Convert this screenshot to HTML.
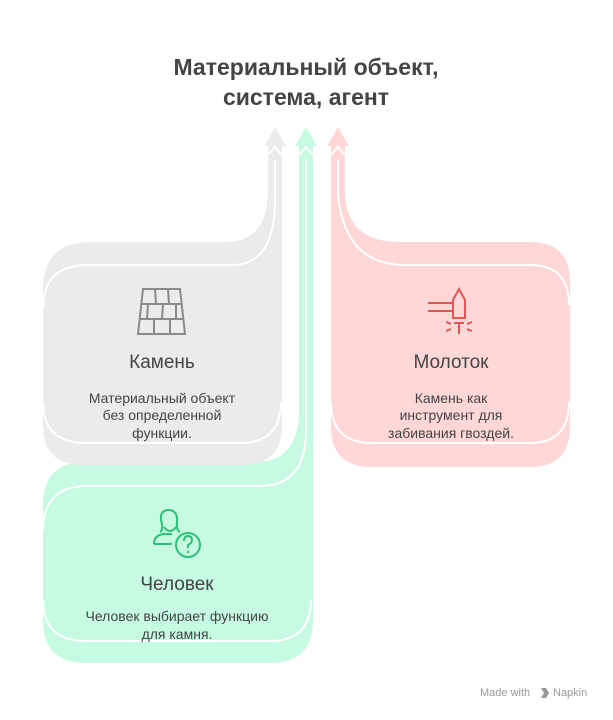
<!DOCTYPE html>
<html><head><meta charset="utf-8"><style>
html,body{margin:0;padding:0;background:#fff;}
svg{display:block;font-family:"Liberation Sans",sans-serif;}
</style></head><body>
<svg width="613" height="720" viewBox="0 0 613 720" xmlns="http://www.w3.org/2000/svg">
<text x="306" y="75" text-anchor="middle" font-size="23" font-weight="bold" fill="#444">Материальный объект,</text>
<text x="306" y="105" text-anchor="middle" font-size="23" font-weight="bold" fill="#444">система, агент</text>

<!-- green -->
<path d="M43,505 Q43,462 86,462 L255,462 Q299,462 299,410 L299,146 L295,146 L306,127 L317,146 L313,146 L313,620 Q313,663 270,663 L86,663 Q43,663 43,620 Z" fill="#c6fbe2"/>
<path d="M43,530 Q43,486 88,486 L260,486 Q306,486 306,430 L306,160" fill="none" stroke="#fff" stroke-width="2"/>
<path d="M43,600 Q43,641 86,641 L270,641 Q311,641 311,600" fill="none" stroke="#fff" stroke-width="2"/>
<path d="M299,155 L306,147 L313,155" fill="none" stroke="#fff" stroke-width="2"/>

<!-- gray -->
<path d="M43,290 Q43,242 91,242 L225,242 Q268,242 268,190 L268,146 L264,146 L275,127 L286,146 L282,146 L282,425 Q282,465 242,465 L83,465 Q43,465 43,425 Z" fill="#ebebeb"/>
<path d="M43,308 Q43,265 88,265 L232,265 Q275,265 275,200 L275,160" fill="none" stroke="#fff" stroke-width="2"/>
<path d="M43,402 Q43,443 86,443 L240,443 Q281,443 281,402" fill="none" stroke="#fff" stroke-width="2"/>
<path d="M268,155 L275,147 L282,155" fill="none" stroke="#fff" stroke-width="2"/>

<!-- red -->
<path d="M331,146 L327,146 L338,127 L349,146 L345,146 L345,190 Q345,242 400,242 L530,242 Q570,242 570,282 L570,427 Q570,467 530,467 L372,467 Q331,467 331,427 Z" fill="#ffd7d7"/>
<path d="M338,160 L338,195 Q345,265 405,265 L530,265 Q569,265 569,305" fill="none" stroke="#fff" stroke-width="2"/>
<path d="M331,402 Q331,443 372,443 L530,443 Q569,443 569,402" fill="none" stroke="#fff" stroke-width="2"/>
<path d="M331,155 L338,147 L345,155" fill="none" stroke="#fff" stroke-width="2"/>

<!-- brick icon -->
<g fill="none" stroke="#8a8a8a" stroke-width="2">
<path d="M143,289 L180,289 L185,334 L138,334 Z"/>
<path d="M141,304 L182,304 M140,319 L183,319"/>
<path d="M155,289 L156,304 M168,289 L169,304 M148,304 L147,319 M163,304 L162,319 M176,304 L176,319 M154,319 L154,334 M170,319 L170,334"/>
</g>

<!-- hammer icon -->
<g fill="none" stroke="#e05555" stroke-width="2">
<path d="M453,318 L453,300 L459,289 L465,300 L465,318 Z"/>
<path d="M428,303 L453,303 M428,311 L453,311"/>
<path d="M459,323 L459,334 M454,323 L464,323 M446,322 L451,324 M472,322 L467,324 M446,331 L451,329 M472,331 L467,329"/>
</g>

<!-- person icon -->
<g fill="none" stroke="#2fbf78" stroke-width="2">
<path d="M162,524 Q158,511 168,510 Q178,510 177,522 Q176,530 180,532 M162,524 Q163,530 160,532 M164,527 Q170,535 176,527"/>
<path d="M154,544 Q154,535 164,534 L172,534"/>
<path d="M154,544 L172,544"/>
<circle cx="188" cy="545" r="12"/>
<path d="M184,541 Q184,536 188,536 Q192,536 192,540 Q192,543 188,545 L188,548"/>
</g>
<circle cx="188" cy="552" r="1.2" fill="#2fbf78"/>

<g fill="#444" text-anchor="middle">
<text x="162" y="368" font-size="19">Камень</text>
<text x="162" y="403" font-size="14">Материальный объект</text>
<text x="162" y="420" font-size="14">без определенной</text>
<text x="162" y="438" font-size="14">функции.</text>

<text x="451" y="368" font-size="19">Молоток</text>
<text x="451" y="403" font-size="14">Камень как</text>
<text x="451" y="420" font-size="14">инструмент для</text>
<text x="451" y="438" font-size="14">забивания гвоздей.</text>

<text x="177" y="590" font-size="19">Человек</text>
<text x="177" y="621" font-size="14">Человек выбирает функцию</text>
<text x="177" y="639" font-size="14">для камня.</text>
</g>
<text x="480" y="696" font-size="11" fill="#999">Made with</text>
<path d="M541,688 L546,688 L549,693 L546,698 L541,698 L544,693 Z" fill="#999"/>
<text x="553" y="696" font-size="11" fill="#999">Napkin</text>
</svg>
</body></html>
